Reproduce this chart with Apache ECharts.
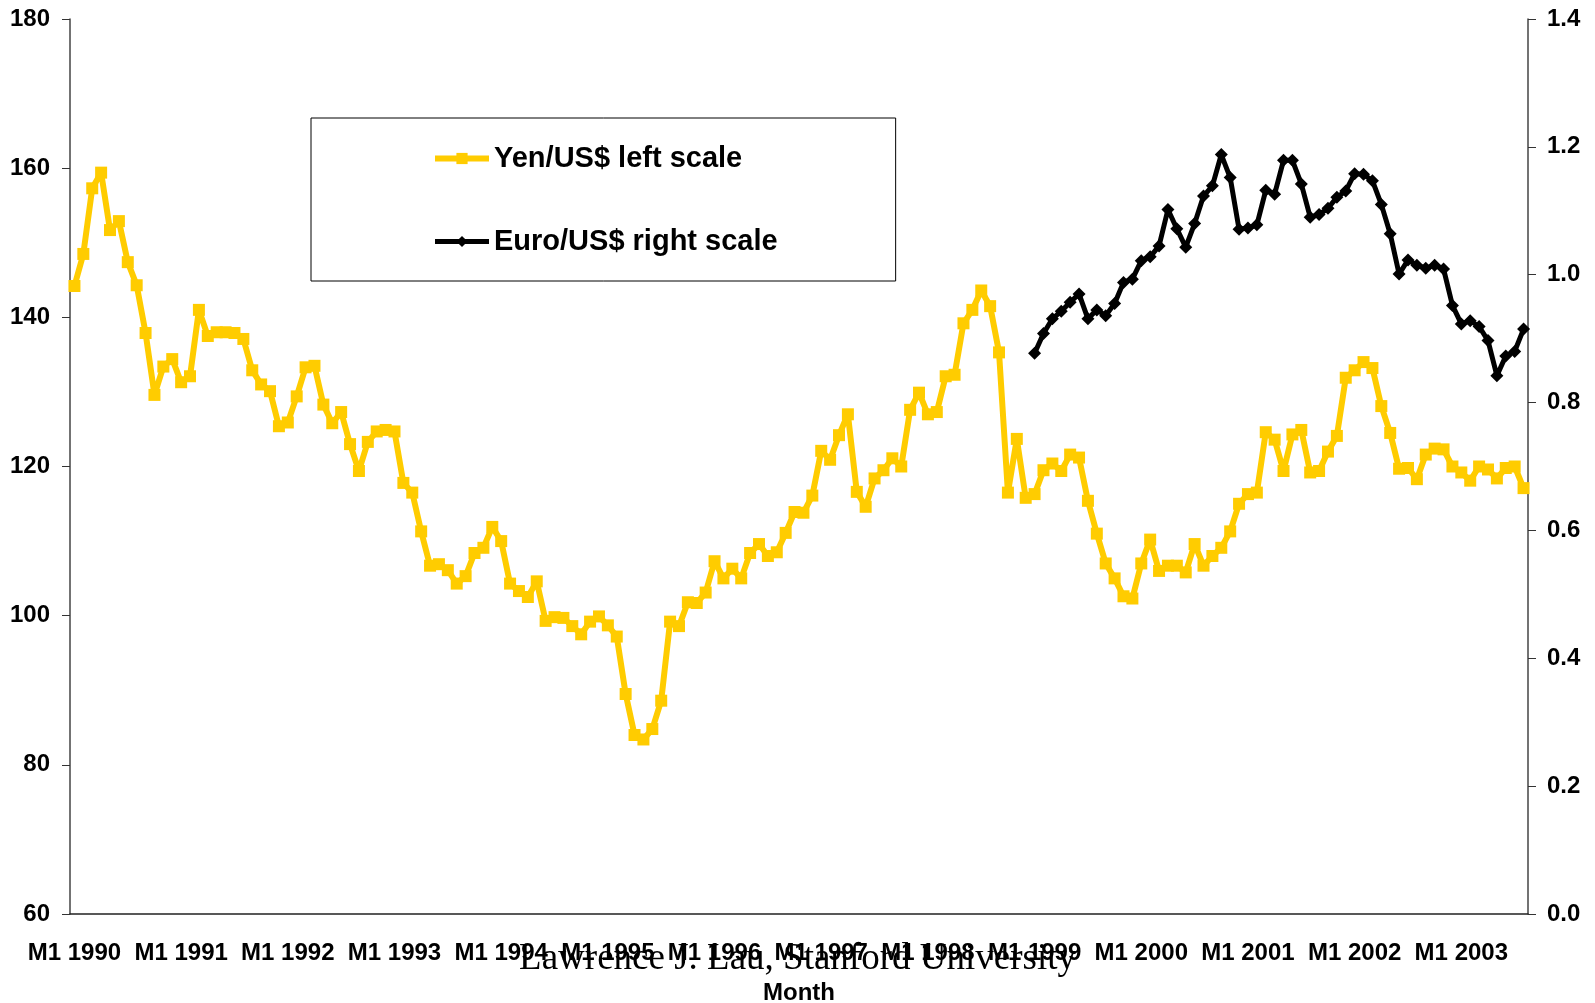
<!DOCTYPE html>
<html>
<head>
<meta charset="utf-8">
<title>Yen/US$ and Euro/US$</title>
<script src="https://cdn.jsdelivr.net/npm/echarts@6/dist/echarts.min.js"></script>
<style>
  body { margin: 0; background: #fff; }
  #main { width: 1595px; height: 1003px; }
</style>
</head>
<body>
<div id="main"></div>
<script>
// months M1 1990 .. M8 2003
var firstYear = 1990;
var monthCount = 164;
var months = [];
for (var i = 0; i < monthCount; i++) {
  months.push("M" + ((i % 12) + 1) + " " + (firstYear + Math.floor(i / 12)));
}

// Yen/US$ (left scale), monthly from M1 1990
var yen = [
  144.2, 148.5, 157.3, 159.4, 151.7, 152.9, 147.4, 144.3, 137.9, 129.6, 133.4, 134.4,
  131.3, 132.1, 141.0, 137.5, 138.0, 138.0, 137.9, 137.1, 132.9, 131.0, 130.1, 125.4,
  125.9, 129.4, 133.3, 133.5, 128.3, 125.8, 127.3, 123.0, 119.4, 123.3, 124.7, 124.9,
  124.7, 117.8, 116.5, 111.3, 106.7, 106.9, 106.1, 104.3, 105.3, 108.4, 109.1, 111.9,
  110.0, 104.3, 103.3, 102.5, 104.6, 99.3, 99.8, 99.7, 98.6, 97.5, 99.2, 99.9,
  98.7, 97.2, 89.5, 84.0, 83.4, 84.8, 88.6, 99.2, 98.6, 101.8, 101.7, 103.1,
  107.3, 105.0, 106.3, 105.0, 108.4, 109.6, 108.0, 108.5, 111.1, 113.9, 113.8, 116.1,
  122.1, 120.9, 124.2, 127.0, 116.6, 114.6, 118.4, 119.5, 121.1, 120.0, 127.6, 129.9,
  127.0, 127.3, 132.1, 132.3, 139.2, 141.0, 143.6, 141.5, 135.3, 116.5, 123.7, 115.8,
  116.3, 119.5, 120.4, 119.4, 121.6, 121.2, 115.4, 111.0, 107.0, 105.0, 102.6, 102.3,
  107.0, 110.2, 106.0, 106.7, 106.7, 105.8, 109.6, 106.7, 108.0, 109.1, 111.3, 115.0,
  116.3, 116.5, 124.6, 123.6, 119.4, 124.3, 124.9, 119.2, 119.4, 122.0, 124.1, 131.9,
  132.9, 134.0, 133.2, 128.1, 124.5, 119.7, 119.8, 118.3, 121.6, 122.4, 122.3, 120.0,
  119.2, 118.1, 120.0, 119.6, 118.4, 119.8, 120.0, 117.1
];

// Euro/US$ (right scale), monthly from M1 1999
var euroStart = "M1 1999";
var euro = [
  0.877, 0.908, 0.931, 0.943, 0.957, 0.970, 0.931, 0.945, 0.936, 0.955, 0.988, 0.993,
  1.022, 1.028, 1.045, 1.102, 1.072, 1.043, 1.080, 1.123, 1.139, 1.188, 1.152, 1.071,
  1.073, 1.078, 1.132, 1.126, 1.179, 1.179, 1.142, 1.090, 1.094, 1.104, 1.121, 1.131,
  1.158, 1.157, 1.147, 1.110, 1.064, 1.001, 1.023, 1.015, 1.010, 1.015, 1.009, 0.952,
  0.923, 0.928, 0.919, 0.897, 0.842, 0.873, 0.880, 0.915
];

var euroData = [];
var startIdx = months.indexOf(euroStart);
for (var k = 0; k < months.length; k++) {
  euroData.push(k < startIdx ? null : euro[k - startIdx]);
}

var font = "Liberation Sans, Arial, sans-serif";
var axisLabelStyle = {
  color: "#000",
  fontFamily: font,
  fontWeight: "bold",
  fontSize: 24,
};

var myChart = echarts.init(document.getElementById("main"));
var option = {
  animation: false,
  backgroundColor: "#fff",
  grid: {
    left: 70,
    right: 67,
    top: 19,
    bottom: 89,
    containLabel: false,
    outerBoundsMode: "none",
  },
  legend: {
    orient: "vertical",
    left: 311,
    top: 118,
    padding: [26, 118, 25, 121],
    itemGap: 54,
    itemWidth: 54,
    itemHeight: 14,
    borderColor: "#000",
    borderWidth: 1,
    lineStyle: { width: "inherit" },
    textStyle: {
      color: "#000",
      fontFamily: font,
      fontWeight: "bold",
      fontSize: 29,
    },
    data: ["Yen/US$ left scale", "Euro/US$ right scale"],
  },
  graphic: [
    {
      type: "text",
      left: "center",
      top: 941,
      style: {
        text: "Lawrence J. Lau, Stanford University",
        fill: "#000",
        font: "37px 'Liberation Serif', 'Times New Roman', serif",
      },
    },
  ],
  xAxis: {
    type: "category",
    data: months,
    boundaryGap: true,
    name: "Month",
    nameLocation: "middle",
    nameGap: 67,
    nameTextStyle: {
      color: "#000",
      fontFamily: font,
      fontWeight: "bold",
      fontSize: 24,
    },
    axisLine: { lineStyle: { color: "#222", width: 1.5 } },
    axisTick: { interval: 11, length: 8, lineStyle: { color: "#333" } },
    axisLabel: Object.assign({ interval: 11, margin: 27 }, axisLabelStyle),
    splitLine: { show: false },
  },
  yAxis: [
    {
      type: "value",
      min: 60,
      max: 180,
      interval: 20,
      axisLine: { show: true, lineStyle: { color: "#444", width: 1.5 } },
      axisTick: { show: true, length: 8, lineStyle: { color: "#333" } },
      axisLabel: Object.assign({ margin: 20 }, axisLabelStyle),
      splitLine: { show: false },
    },
    {
      type: "value",
      min: 0,
      max: 1.4,
      interval: 0.2,
      position: "right",
      axisLine: { show: true, lineStyle: { color: "#444", width: 1.5 } },
      axisTick: { show: true, length: 8, lineStyle: { color: "#333" } },
      axisLabel: Object.assign(
        {
          margin: 19,
          formatter: function (v) {
            return v.toFixed(1);
          },
        },
        axisLabelStyle
      ),
      splitLine: { show: false },
    },
  ],
  series: [
    {
      name: "Yen/US$ left scale",
      type: "line",
      yAxisIndex: 0,
      data: yen,
      symbol: "rect",
      symbolSize: 12,
      showAllSymbol: true,
      lineStyle: { color: "#FFCC00", width: 6 },
      itemStyle: { color: "#FFCC00" },
      z: 2,
    },
    {
      name: "Euro/US$ right scale",
      type: "line",
      yAxisIndex: 1,
      data: euroData,
      symbol: "diamond",
      symbolSize: 13,
      showAllSymbol: true,
      lineStyle: { color: "#000", width: 5 },
      itemStyle: { color: "#000" },
      z: 3,
    },
  ],
};

option && myChart.setOption(option);
</script>
</body>
</html>
